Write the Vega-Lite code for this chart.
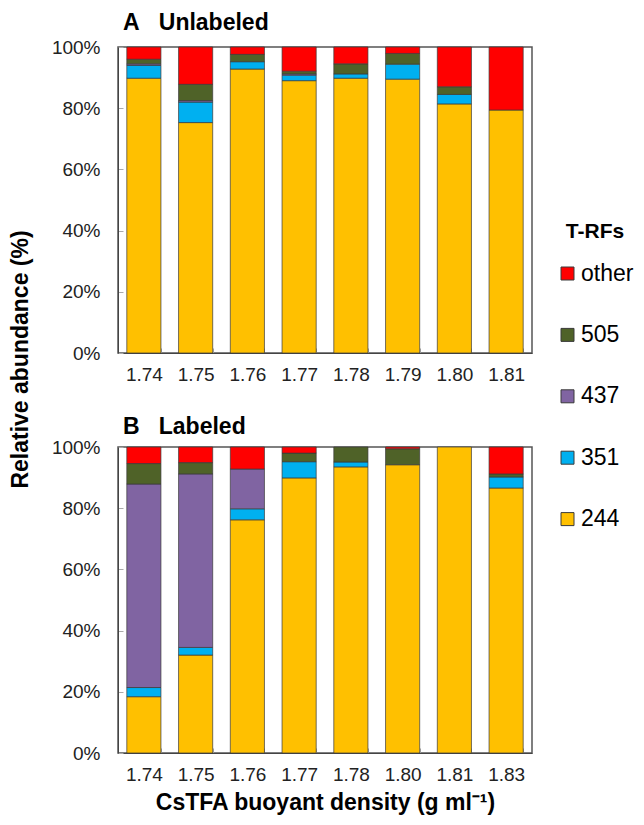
{
  "$schema": "https://vega.github.io/schema/vega-lite/v6.json",
  "padding": {"left": 8, "top": 11, "right": 5, "bottom": 5},
  "config": {
    "font": "Liberation Sans",
    "view": {"stroke": "#555", "strokeWidth": 1.5},
    "axis": {"labelFontSize": 19, "labelColor": "#222", "domainColor": "#444", "tickColor": "#aaa", "titleFontSize": 23, "titleFontWeight": "bold", "titleColor": "#000", "grid": false, "labelFont": "Liberation Sans", "titleFont": "Liberation Sans"}
  },
  "data": {"values": [
    {"panel": "A", "density": "1.74", "trf": "244", "value": 89.8},
    {"panel": "A", "density": "1.74", "trf": "351", "value": 4.2},
    {"panel": "A", "density": "1.74", "trf": "437", "value": 0.5},
    {"panel": "A", "density": "1.74", "trf": "505", "value": 1.5},
    {"panel": "A", "density": "1.74", "trf": "other", "value": 4.0},
    {"panel": "A", "density": "1.75", "trf": "244", "value": 75.3},
    {"panel": "A", "density": "1.75", "trf": "351", "value": 6.7},
    {"panel": "A", "density": "1.75", "trf": "437", "value": 0.5},
    {"panel": "A", "density": "1.75", "trf": "505", "value": 5.3},
    {"panel": "A", "density": "1.75", "trf": "other", "value": 12.2},
    {"panel": "A", "density": "1.76", "trf": "244", "value": 92.8},
    {"panel": "A", "density": "1.76", "trf": "351", "value": 2.4},
    {"panel": "A", "density": "1.76", "trf": "505", "value": 2.4},
    {"panel": "A", "density": "1.76", "trf": "other", "value": 2.4},
    {"panel": "A", "density": "1.77", "trf": "244", "value": 89.0},
    {"panel": "A", "density": "1.77", "trf": "351", "value": 1.8},
    {"panel": "A", "density": "1.77", "trf": "437", "value": 0.4},
    {"panel": "A", "density": "1.77", "trf": "505", "value": 0.9},
    {"panel": "A", "density": "1.77", "trf": "other", "value": 7.9},
    {"panel": "A", "density": "1.78", "trf": "244", "value": 89.8},
    {"panel": "A", "density": "1.78", "trf": "351", "value": 1.4},
    {"panel": "A", "density": "1.78", "trf": "505", "value": 3.3},
    {"panel": "A", "density": "1.78", "trf": "other", "value": 5.5},
    {"panel": "A", "density": "1.79", "trf": "244", "value": 89.5},
    {"panel": "A", "density": "1.79", "trf": "351", "value": 4.9},
    {"panel": "A", "density": "1.79", "trf": "505", "value": 3.5},
    {"panel": "A", "density": "1.79", "trf": "other", "value": 2.1},
    {"panel": "A", "density": "1.80", "trf": "244", "value": 81.4},
    {"panel": "A", "density": "1.80", "trf": "351", "value": 3.1},
    {"panel": "A", "density": "1.80", "trf": "505", "value": 2.5},
    {"panel": "A", "density": "1.80", "trf": "other", "value": 13.0},
    {"panel": "A", "density": "1.81", "trf": "244", "value": 79.4},
    {"panel": "A", "density": "1.81", "trf": "other", "value": 20.6},
    {"panel": "B", "density": "1.74", "trf": "244", "value": 18.4},
    {"panel": "B", "density": "1.74", "trf": "351", "value": 3.0},
    {"panel": "B", "density": "1.74", "trf": "437", "value": 66.5},
    {"panel": "B", "density": "1.74", "trf": "505", "value": 6.7},
    {"panel": "B", "density": "1.74", "trf": "other", "value": 5.4},
    {"panel": "B", "density": "1.75", "trf": "244", "value": 32.0},
    {"panel": "B", "density": "1.75", "trf": "351", "value": 2.5},
    {"panel": "B", "density": "1.75", "trf": "437", "value": 56.7},
    {"panel": "B", "density": "1.75", "trf": "505", "value": 3.7},
    {"panel": "B", "density": "1.75", "trf": "other", "value": 5.1},
    {"panel": "B", "density": "1.76", "trf": "244", "value": 76.2},
    {"panel": "B", "density": "1.76", "trf": "351", "value": 3.6},
    {"panel": "B", "density": "1.76", "trf": "437", "value": 13.0},
    {"panel": "B", "density": "1.76", "trf": "other", "value": 7.2},
    {"panel": "B", "density": "1.77", "trf": "244", "value": 89.9},
    {"panel": "B", "density": "1.77", "trf": "351", "value": 5.3},
    {"panel": "B", "density": "1.77", "trf": "505", "value": 2.8},
    {"panel": "B", "density": "1.77", "trf": "other", "value": 2.0},
    {"panel": "B", "density": "1.78", "trf": "244", "value": 93.5},
    {"panel": "B", "density": "1.78", "trf": "351", "value": 1.6},
    {"panel": "B", "density": "1.78", "trf": "505", "value": 4.9},
    {"panel": "B", "density": "1.80", "trf": "244", "value": 94.2},
    {"panel": "B", "density": "1.80", "trf": "505", "value": 5.2},
    {"panel": "B", "density": "1.80", "trf": "other", "value": 0.6},
    {"panel": "B", "density": "1.81", "trf": "244", "value": 100.0},
    {"panel": "B", "density": "1.83", "trf": "244", "value": 86.6},
    {"panel": "B", "density": "1.83", "trf": "351", "value": 3.6},
    {"panel": "B", "density": "1.83", "trf": "505", "value": 1.0},
    {"panel": "B", "density": "1.83", "trf": "other", "value": 8.8}
  ]},
  "bounds": "flush",
  "spacing": 94,
  "resolve": {"scale": {"x": "independent"}},
  "vconcat": [
    {
      "width": 414,
      "height": 306,
      "title": {"text": "A\u00a0\u00a0\u00a0Unlabeled", "anchor": "start", "frame": "group", "fontSize": 23, "fontWeight": "bold", "color": "#000", "dx": 5, "offset": -15, "baseline": "alphabetic"},
      "transform": [{"filter": "datum.panel === 'A'"}],
      "mark": {"type": "bar", "stroke": "#3a3a3a", "strokeWidth": 0.7},
      "encoding": {
        "x": {"field": "density", "type": "ordinal", "scale": {"paddingInner": 0.34, "paddingOuter": 0.17},
              "axis": {"title": null, "labelAngle": 0, "labelPadding": 17.5, "tickBand": "extent", "tickSize": -5}},
        "y": {"field": "value", "type": "quantitative", "stack": "zero", "scale": {"domain": [0, 100]},
              "axis": {"values": [0, 20, 40, 60, 80, 100], "labelExpr": "datum.value + '%'", "tickSize": -5, "labelPadding": 23,
                       "title": "Relative abundance (%)", "titleY": 312, "titlePadding": 24, "titleBaseline": "alphabetic"}},
        "color": {"field": "trf", "type": "nominal",
                  "scale": {"domain": ["other", "505", "437", "351", "244"], "range": ["#FF0000", "#4F6228", "#8064A2", "#00B0F0", "#FFC000"]},
                  "legend": {"orient": "none", "legendX": 438, "legendY": 174, "title": "T-RFs", "titleFontSize": 21, "titleFontWeight": "bold", "titleColor": "#000", "titleAnchor": "middle", "titlePadding": 20,
                             "labelFontSize": 23, "labelColor": "#000", "symbolType": "square", "symbolSize": 169, "symbolStrokeColor": "#333", "symbolStrokeWidth": 1, "rowPadding": 37.4, "labelOffset": 2}},
        "order": {"field": "trf", "type": "ordinal", "sort": "ascending"}
      }
    },
    {
      "width": 414,
      "height": 306,
      "title": {"text": "B\u00a0\u00a0\u00a0Labeled", "anchor": "start", "frame": "group", "fontSize": 23, "fontWeight": "bold", "color": "#000", "dx": 5, "offset": -19, "baseline": "alphabetic"},
      "transform": [{"filter": "datum.panel === 'B'"}],
      "mark": {"type": "bar", "stroke": "#3a3a3a", "strokeWidth": 0.7},
      "encoding": {
        "x": {"field": "density", "type": "ordinal", "scale": {"paddingInner": 0.34, "paddingOuter": 0.17},
              "axis": {"title": "CsTFA buoyant density (g ml\u207b\u00b9)", "labelAngle": 0, "labelPadding": 17.5, "tickBand": "extent", "tickSize": -5, "titlePadding": 7}},
        "y": {"field": "value", "type": "quantitative", "stack": "zero", "scale": {"domain": [0, 100]},
              "axis": {"values": [0, 20, 40, 60, 80, 100], "labelExpr": "datum.value + '%'", "tickSize": -5, "labelPadding": 23, "title": null}},
        "color": {"field": "trf", "type": "nominal"},
        "order": {"field": "trf", "type": "ordinal", "sort": "ascending"}
      }
    }
  ]
}
